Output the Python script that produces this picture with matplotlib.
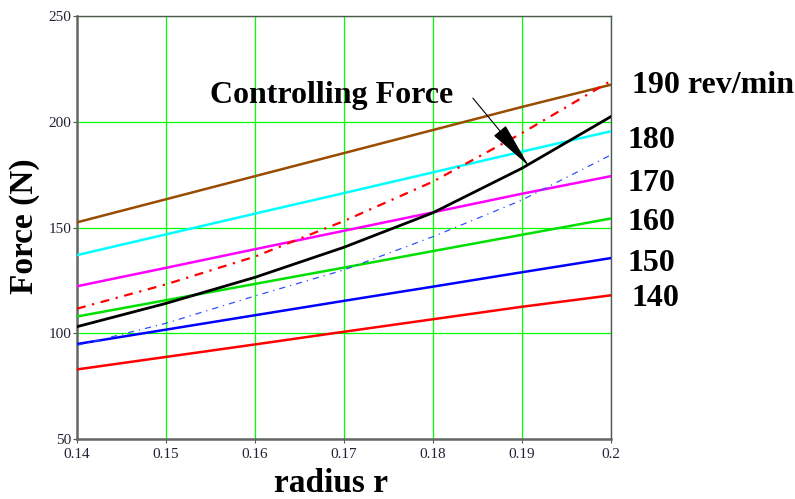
import matplotlib
matplotlib.use("Agg")
import matplotlib.pyplot as plt
import numpy as np

radius = [0.14, 0.15, 0.16, 0.17, 0.18, 0.19, 0.20]

speeds = ["140", "150", "160", "170", "180", "190"]
f_140 = [83.0, 88.9, 94.8, 100.8, 106.7, 112.6, 118.0]
f_150 = [95.0, 101.8, 108.6, 115.4, 122.1, 128.9, 135.6]
f_160 = [108.0, 115.7, 123.4, 131.1, 138.9, 146.6, 154.3]
f_170 = [122.3, 131.0, 139.8, 148.5, 157.2, 166.0, 174.3]
f_180 = [137.0, 146.8, 156.6, 166.3, 176.1, 185.9, 195.5]
f_190 = [152.5, 163.4, 174.3, 185.2, 196.1, 207.0, 217.5]

controlling = [103.2, 114.2, 126.5, 140.7, 157.0, 178.0, 202.4]
upper_ctrl = [111.7, 123.2, 136.3, 153.1, 171.7, 194.6, 219.3]
lower_ctrl = [94.3, 104.8, 117.7, 130.0, 145.7, 163.0, 184.3]

x_ticks = [0.14, 0.15, 0.16, 0.17, 0.18, 0.19, 0.2]
x_ticklabels = ["0.14", "0.15", "0.16", "0.17", "0.18", "0.19", "0.2"]
y_ticks = [50, 100, 150, 200, 250]

W, H = 795, 499
fig = plt.figure(figsize=(W / 100, H / 100), dpi=100)
ax = fig.add_axes([0.0969, 0.1197, 0.6713, 0.8483])

serif = ["Liberation Serif", "DejaVu Serif"]

line_series = [f_140, f_150, f_160, f_170, f_180, f_190]
line_colors = ["#ff0000", "#0000ff", "#00e000", "#ff00ff", "#00ffff", "#994c00"]
for vals, c in zip(line_series, line_colors):
    ax.plot(radius, vals, color=c, lw=1.8, zorder=3)

ax.plot(radius, upper_ctrl, color="#ff0000", lw=1.6, dashes=(4, 3, 1, 3), zorder=4)
ax.plot(radius, lower_ctrl, color="#3050ff", lw=0.9, dashes=(5, 4, 1, 4), zorder=4)
ax.plot(radius, controlling, color="black", lw=2.0, zorder=5)

ax.set_xlim(0.14, 0.2)
ax.set_ylim(50, 250)
ax.set_xticks(x_ticks)
ax.set_xticklabels(x_ticklabels)
ax.set_yticks(y_ticks)
ax.grid(True, color="#00ff00", lw=0.9, zorder=1)
ax.set_axisbelow(True)

for lab in ax.get_xticklabels() + ax.get_yticklabels():
    lab.set_fontfamily(serif)
    lab.set_fontsize(11)
    lab.set_color("#222233")
ax.tick_params(axis="both", direction="out", length=3, width=0.8, color="#555555", pad=1)
ax.tick_params(axis="x", pad=3)

for side in ["left", "bottom"]:
    ax.spines[side].set_color("#666666")
    ax.spines[side].set_linewidth(1.8)
for side in ["top", "right"]:
    ax.spines[side].set_color("#555555")
    ax.spines[side].set_linewidth(1.0)

fig.text(331 / W, 1 - 492 / H, "radius r", fontfamily=serif, fontsize=24,
         fontweight="bold", ha="center", va="baseline")
fig.text(24 / W, 1 - 226.5 / H, "Force (N)", fontfamily=serif, fontsize=24,
         fontweight="bold", ha="center", va="center", rotation=90)

ax.text(0.155, 208.9, "Controlling Force", fontfamily=serif, fontsize=23,
        fontweight="bold", va="baseline", ha="left")
ax.annotate("", xy=(0.1908, 179.1), xytext=(0.1845, 211.2),
            arrowprops=dict(arrowstyle="-|>,head_length=3.0,head_width=0.5",
                            color="black", lw=0.8, shrinkA=0, shrinkB=0), zorder=6)

right_labels = ["190 rev/min", "180", "170", "160", "150", "140"]
right_label_y = [93, 148, 191, 230, 271, 306]
right_label_x = [632, 627, 628, 628, 627, 632]
for t, px, py in zip(right_labels, right_label_x, right_label_y):
    fig.text(px / W, 1 - py / H, t, fontfamily=serif, fontsize=23,
             fontweight="bold", va="baseline", ha="left")

fig.savefig("out.png", dpi=100)
